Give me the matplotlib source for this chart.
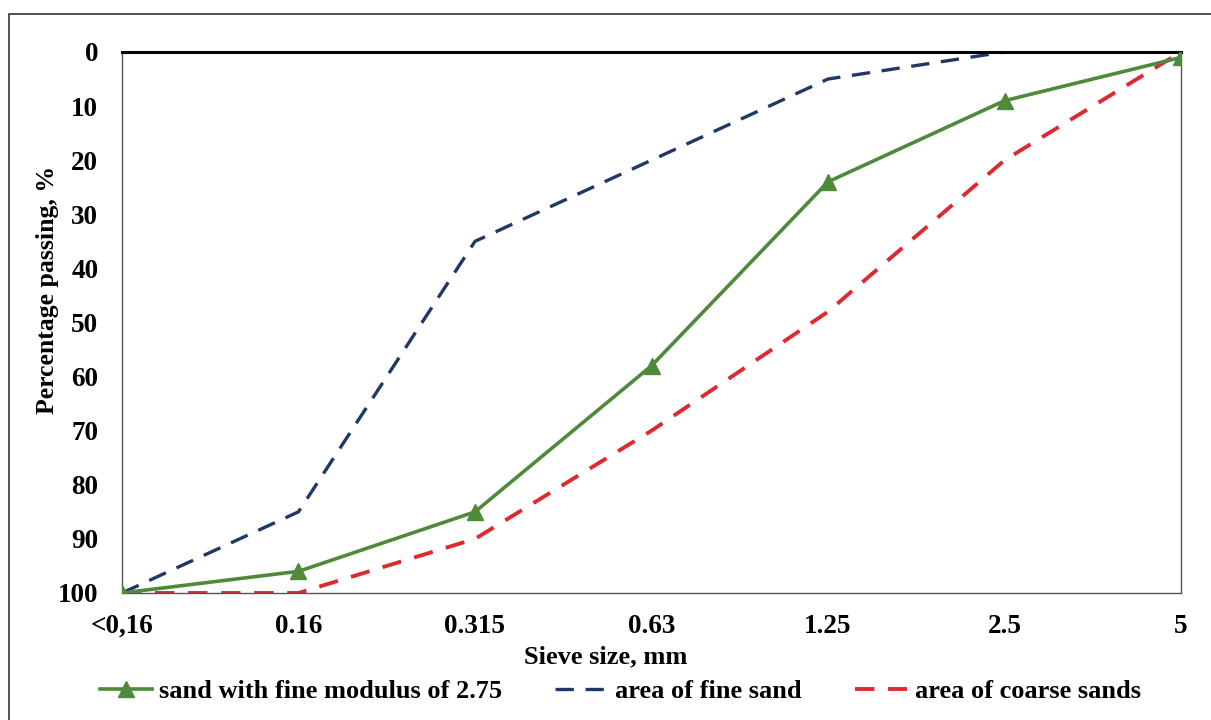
import matplotlib
matplotlib.use("Agg")
import matplotlib.pyplot as plt
from matplotlib.patches import Rectangle

plt.rcParams['font.family'] = ['Liberation Serif', 'DejaVu Serif']
plt.rcParams['font.weight'] = 'bold'

sieve = ['<0,16', '0.16', '0.315', '0.63', '1.25', '2.5', '5']
sand_275 = [100, 96, 85, 58, 24, 9, 1]
fine_area = [100, 85, 35, 20, 5, 0, 0]
coarse_area = [100, 100, 90, 70, 48, 20, 0]

x = list(range(len(sieve)))

fig = plt.figure(figsize=(12.11, 7.2), dpi=100)
ax = fig.add_axes([0.1007, 0.1764, 0.8746, 0.7514])

# outer frame of the figure
fig.patches.append(Rectangle((9 / 1211, -0.1), 1.2, 0.1 + 1 - 14 / 720,
                             transform=fig.transFigure, fill=False,
                             edgecolor='#333333', linewidth=1.2))

ax.plot(x, sand_275, color='#4f8a3b', linewidth=2.6, marker='^',
        markersize=11, label='sand with fine modulus of 2.75', zorder=3)
ax.plot(x, fine_area, color='#1f3864', linewidth=2.4, dashes=(5.5, 3.5),
        label='area of fine sand', zorder=2)
ax.plot(x, coarse_area, color='#dc2a2e', linewidth=2.8, dashes=(5, 3.5),
        label='area of coarse sands', zorder=2)

ax.set_xlim(0, 6)
ax.set_ylim(100, 0)
ax.set_yticks(range(0, 101, 10))
ax.set_xticks(x)
ax.set_xticklabels(sieve)
ax.tick_params(length=0, labelsize=19.5)
ax.tick_params(axis='x', pad=15)
ax.tick_params(axis='y', pad=17)

for side in ['left', 'right', 'bottom']:
    ax.spines[side].set_color('#555555')
    ax.spines[side].set_linewidth(1.0)
ax.spines['top'].set_color('black')
ax.spines['top'].set_linewidth(2.2)

fig.text(606 / 1211, 1 - 657 / 720, 'Sieve size, mm', ha='center',
         va='center', fontsize=19, fontweight='bold')
fig.text(48 / 1211, 1 - 290 / 720, 'Percentage passing, %', rotation=90,
         ha='center', va='center', fontsize=18.5, fontweight='bold')

fig.legend(loc='center', bbox_to_anchor=(0.512, 1 - 691 / 720), ncol=3,
           frameon=False, fontsize=19, handlelength=2.0, handletextpad=0.27,
           columnspacing=2.0)

fig.savefig('out.png', dpi=100)
